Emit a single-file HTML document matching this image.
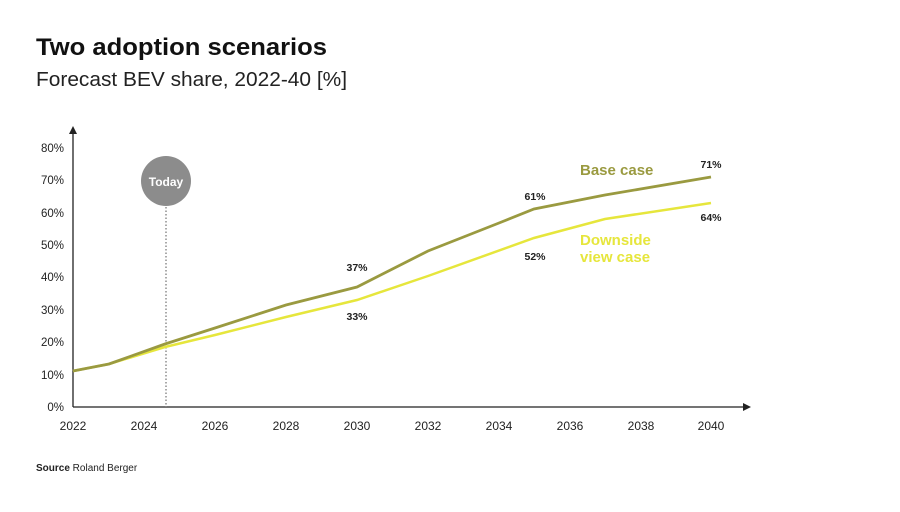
<!DOCTYPE html>
<html><head><style>
body{margin:0;background:#fff;font-family:"Liberation Sans",sans-serif;}
</style></head><body>
<svg width="900" height="507" xmlns="http://www.w3.org/2000/svg" font-family="Liberation Sans, sans-serif">
<rect width="900" height="507" fill="#fff"/>
<text x="36" y="55" font-size="24" font-weight="bold" fill="#111" textLength="291" lengthAdjust="spacingAndGlyphs">Two adoption scenarios</text>
<text x="36" y="86" font-size="20" fill="#222" textLength="311" lengthAdjust="spacingAndGlyphs">Forecast BEV share, 2022-40 [%]</text>
<line x1="73" y1="130" x2="73" y2="407" stroke="#222" stroke-width="1.3"/>
<polygon points="69,134 77,134 73,126" fill="#222"/>
<line x1="73" y1="407" x2="745" y2="407" stroke="#222" stroke-width="1.3"/>
<polygon points="743,403 743,411 751,407" fill="#222"/>
<g font-size="11.5" fill="#222" text-anchor="end">
<text x="64" y="411">0%</text><text x="64" y="379">10%</text><text x="64" y="346">20%</text><text x="64" y="314">30%</text><text x="64" y="281">40%</text><text x="64" y="249">50%</text><text x="64" y="217">60%</text><text x="64" y="184">70%</text><text x="64" y="152">80%</text>
</g>
<g font-size="12" fill="#222" text-anchor="middle">
<text x="73" y="430">2022</text><text x="144" y="430">2024</text><text x="215" y="430">2026</text><text x="286" y="430">2028</text><text x="357" y="430">2030</text><text x="428" y="430">2032</text><text x="499" y="430">2034</text><text x="570" y="430">2036</text><text x="641" y="430">2038</text><text x="711" y="430">2040</text>
</g>
<line x1="166" y1="207" x2="166" y2="407" stroke="#555" stroke-width="1" stroke-dasharray="1.5,2"/>
<circle cx="166" cy="181" r="25" fill="#8c8c8c"/>
<text x="166" y="186" font-size="12" font-weight="bold" fill="#fff" text-anchor="middle">Today</text>
<polyline fill="none" stroke="#e6e63c" stroke-width="2.5" points="73,371 109,364 165,347 215,335 286,317 357,300 428,276 534,238 605,219 711,203"/>
<polyline fill="none" stroke="#9a9a40" stroke-width="2.8" points="73,371 109,364 165,344 215,328 286,305 357,287 428,251 499,223 534,209 605,195 711,177"/>
<g font-size="10.5" font-weight="bold" fill="#222" text-anchor="middle">
<text x="357" y="271">37%</text><text x="357" y="320">33%</text><text x="535" y="200">61%</text><text x="535" y="260">52%</text><text x="711" y="168">71%</text><text x="711" y="221">64%</text>
</g>
<text x="580" y="175" font-size="15" font-weight="bold" fill="#9a9a40">Base case</text>
<text x="580" y="245" font-size="15" font-weight="bold" fill="#e6e63c">Downside</text>
<text x="580" y="262" font-size="15" font-weight="bold" fill="#e6e63c">view case</text>
<text x="36" y="471" font-size="10" fill="#222"><tspan font-weight="bold">Source</tspan> Roland Berger</text>
</svg>
</body></html>
